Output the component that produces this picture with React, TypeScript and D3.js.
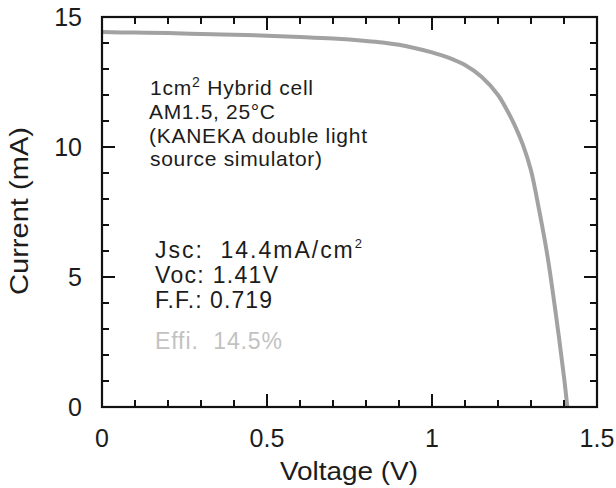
import React from "react";
import * as d3 from "d3";

const voltage = [0, 0.1, 0.2, 0.3, 0.4, 0.5, 0.6, 0.7, 0.8, 0.85, 0.9, 0.95, 1.0, 1.05, 1.1, 1.15, 1.2, 1.225, 1.25, 1.275, 1.3, 1.325, 1.35, 1.375, 1.4, 1.41];
const current = [14.42, 14.4, 14.38, 14.35, 14.32, 14.28, 14.23, 14.17, 14.08, 14.02, 13.93, 13.8, 13.64, 13.44, 13.15, 12.7, 12.0, 11.47, 10.85, 10.1, 9.1, 7.55, 5.8, 3.6, 1.15, 0];
const xTickLabels = ["0", "0.5", "1", "1.5"];
const xTickValues = [0, 0.5, 1, 1.5];
const yTickLabels = ["0", "5", "10", "15"];
const yTickValues = [0, 5, 10, 15];

const W = 616;
const H = 488;
const FONT = "'Liberation Sans', Arial, Helvetica, sans-serif";

export default function App() {
  const x = d3.scaleLinear().domain([0, 1.5]).range([102, 597]);
  const y = d3.scaleLinear().domain([0, 15]).range([407, 17]);
  const pts = voltage.map((v, i) => [v, current[i]] as [number, number]);
  const line = d3
    .line<[number, number]>()
    .x((d) => x(d[0]))
    .y((d) => y(d[1]))
    .curve(d3.curveCatmullRom.alpha(0.5));

  const xMinor = d3.range(0, 1.5001, 0.1);
  const yMinor = d3.range(0, 15.001, 1);
  const isMajorX = (v: number) => Math.abs(v * 2 - Math.round(v * 2)) < 1e-6;
  const isMajorY = (v: number) => Math.abs(v / 5 - Math.round(v / 5)) < 1e-6;
  const [x0, x1] = x.range();
  const [y0, y1] = y.range();
  const textColor = "#1c1c1c";

  return (
    <svg
      width={W}
      height={H}
      style={{ position: "absolute", left: 0, top: 0, background: "#fff" }}
      fontFamily={FONT}
    >
      <rect x={0} y={0} width={W} height={H} fill="#fff" />
      {/* curve */}
      <path d={line(pts) || ""} fill="none" stroke="#a2a2a2" strokeWidth={4} strokeLinejoin="round" />

      {/* x ticks bottom and top */}
      {xMinor.map((v, i) => {
        const len = isMajorX(v) ? 13 : 7;
        return (
          <g key={"xt" + i}>
            <line x1={x(v)} x2={x(v)} y1={y0} y2={y0 - len} stroke="#111" strokeWidth={2} />
            <line x1={x(v)} x2={x(v)} y1={y1} y2={y1 + len} stroke="#111" strokeWidth={2} />
          </g>
        );
      })}
      {/* y ticks left and right */}
      {yMinor.map((v, i) => {
        const len = isMajorY(v) ? 13 : 7;
        return (
          <g key={"yt" + i}>
            <line x1={x0} x2={x0 + len} y1={y(v)} y2={y(v)} stroke="#111" strokeWidth={2} />
            <line x1={x1} x2={x1 - len} y1={y(v)} y2={y(v)} stroke="#111" strokeWidth={2} />
          </g>
        );
      })}
      <rect x={x0} y={y1} width={x1 - x0} height={y0 - y1} fill="none" stroke="#111" strokeWidth={2.2} />

      {/* tick labels */}
      {xTickValues.map((v, i) => (
        <text key={"xl" + i} x={x(v)} y={447} textAnchor="middle" fontSize={25} fill={textColor}>
          {xTickLabels[i]}
        </text>
      ))}
      {yTickValues.map((v, i) => (
        <text key={"yl" + i} x={82} y={y(v)} dy="0.36em" textAnchor="end" fontSize={25} fill={textColor}>
          {yTickLabels[i]}
        </text>
      ))}

      {/* axis titles */}
      <text x={349} y={480} textAnchor="middle" fontSize={26} fill={textColor} textLength={138} lengthAdjust="spacingAndGlyphs">
        Voltage (V)
      </text>
      <text
        transform="translate(28,211) rotate(-90)"
        textAnchor="middle"
        fontSize={26}
        fill={textColor}
        textLength={168}
        lengthAdjust="spacingAndGlyphs"
      >
        Current (mA)
      </text>

      {/* annotation block */}
      <g fontSize={21} fill={textColor}>
        <text x={150} y={95} textLength={163} lengthAdjust="spacing">
          1cm<tspan fontSize={14} dy={-8}>2</tspan>
          <tspan dy={8}> Hybrid cell</tspan>
        </text>
        <text x={149} y={119} textLength={126} lengthAdjust="spacing">
          AM1.5, 25°C
        </text>
        <text x={149} y={143} textLength={218} lengthAdjust="spacing">
          (KANEKA double light
        </text>
        <text x={150} y={166} textLength={172} lengthAdjust="spacing">
          source simulator)
        </text>
      </g>

      <g fontSize={23} fill={textColor}>
        <text x={155} y={258} textLength={207} lengthAdjust="spacing" xmlSpace="preserve">
          {"Jsc:  14.4mA/cm"}
          <tspan fontSize={13} dy={-10}>2</tspan>
        </text>
        <text x={155} y={283} textLength={123} lengthAdjust="spacing">
          Voc: 1.41V
        </text>
        <text x={155} y={308} textLength={117} lengthAdjust="spacing">
          F.F.: 0.719
        </text>
        <text x={155} y={349} textLength={127} lengthAdjust="spacing" fill="#c2c2c2" xmlSpace="preserve">
          {"Effi.  14.5%"}
        </text>
      </g>
    </svg>
  );
}
